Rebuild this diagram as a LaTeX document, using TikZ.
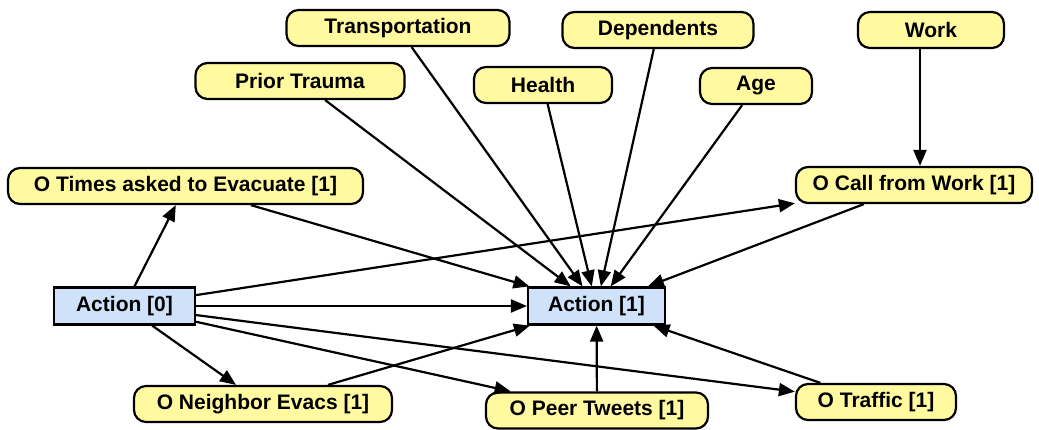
\documentclass[tikz,border=0pt]{standalone}
\usepackage{fontspec}
\setmainfont{Liberation Sans}
\usetikzlibrary{arrows.meta}
\definecolor{yel}{RGB}{255,250,160}
\definecolor{blu}{RGB}{207,226,250}
\begin{document}
\begin{tikzpicture}[x=1pt,y=-1pt,
  obs/.style={draw=black,line width=2.2pt,fill=yel,rounded corners=12pt,inner sep=0pt,minimum height=36pt,font=\fontsize{21}{24}\selectfont\bfseries},
  act/.style={draw=black,line width=2.2pt,fill=blu,inner sep=0pt,minimum height=37pt,font=\fontsize{21}{24}\selectfont\bfseries},
  edge/.style={line width=2.2pt,-{Triangle[length=16pt,width=13pt]}}]
\useasboundingbox (0,0) rectangle (1039,430);
\node[obs,minimum width=223pt] (tr) at (398,28) {Transportation};
\node[obs,minimum width=191pt] (de) at (658,30) {Dependents};
\node[obs,minimum width=146pt] (wo) at (931,30) {Work};
\node[obs,minimum width=209pt] (pt) at (300,81) {Prior Trauma};
\node[obs,minimum width=138pt] (he) at (543,85) {Health};
\node[obs,minimum width=112pt] (ag) at (756,86) {Age};
\node[obs,minimum width=355pt] (ti) at (185.5,186) {O Times asked to Evacuate [1]};
\node[obs,minimum width=236pt] (cw) at (914,185) {O Call from Work [1]};
\node[act,minimum width=141pt] (a0) at (124.5,306) {Action [0]};
\node[act,minimum width=137pt] (a1) at (596.5,306) {Action [1]};
\node[obs,minimum width=258pt] (ne) at (263,404) {O Neighbor Evacs [1]};
\node[obs,minimum width=222pt] (pe) at (597,410.5) {O Peer Tweets [1]};
\node[obs,minimum width=160pt] (tf) at (876,402) {O Traffic [1]};
\draw[edge] (a0) -- (ti);
\draw[edge] (a0) -- (cw);
\draw[edge] (a0) -- (a1);
\draw[edge] (a0) -- (ne);
\draw[edge] (a0) -- (pe);
\draw[edge] (a0) -- (tf);
\draw[edge] (ti) -- (a1);
\draw[edge] (pt) -- (a1);
\draw[edge] (tr) -- (a1);
\draw[edge] (he) -- (a1);
\draw[edge] (de) -- (a1);
\draw[edge] (ag) -- (a1);
\draw[edge] (wo.south -| 920,0) -- (cw.north -| 920,0);
\draw[edge] (cw) -- (a1);
\draw[edge] (ne) -- (a1);
\draw[edge] (pe) -- (a1);
\draw[edge] (tf) -- (a1);
\end{tikzpicture}
\end{document}
